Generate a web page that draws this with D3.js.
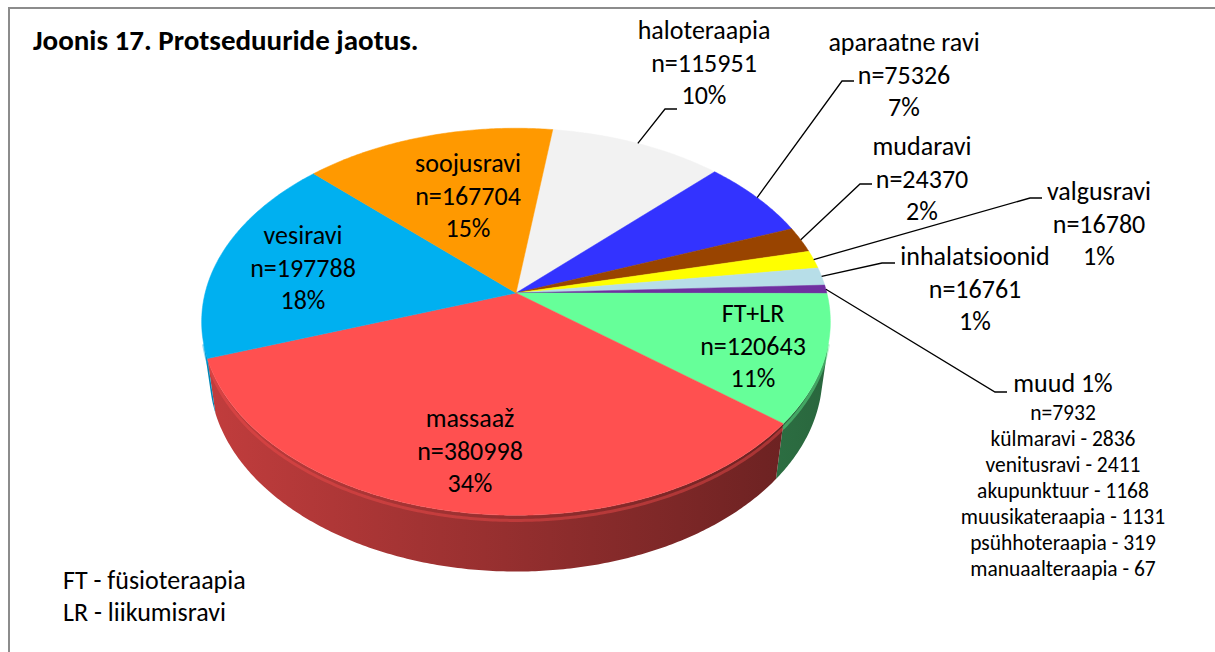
<!DOCTYPE html>
<html>
<head>
<meta charset="utf-8">
<script src="https://cdn.jsdelivr.net/npm/d3@7"></script>
<style>
body { margin: 0; background: #fff; }
svg text { font-family: Carlito, Calibri, Lato, "Open Sans", sans-serif; fill: #000; }
</style>
</head>
<body>
<svg id="chart" width="1215" height="652"></svg>
<script>
// ---- data ----
const categories = ["haloteraapia", "aparaatne ravi", "mudaravi", "valgusravi", "inhalatsioonid",
    "muud", "FT+LR", "massaaž", "vesiravi", "soojusravi"];
const values = [115951, 75326, 24370, 16780, 16761, 7932, 120643, 380998, 197788, 167704];
const sliceColors = ["#F2F2F2", "#3333FF", "#994400", "#FFFF00", "#B7DEE8",
    "#7030A0", "#66FF99", "#FF5050", "#00B0F0", "#FF9900"];
const otherNames = ["külmaravi", "venitusravi", "akupunktuur", "muusikateraapia", "psühhoteraapia", "manuaalteraapia"];
const otherValues = [2836, 2411, 1168, 1131, 319, 67];
const footNotes = ["FT - füsioteraapia", "LR - liikumisravi"];
const title = "Joonis 17. Protseduuride jaotus.";

// label boxes were dragged by hand in the original, so they sit at fixed spots
// x,y = centre of first line; lead = elbow and end of leader line
const labelLayout = {
    "haloteraapia":   { x: 704, y: 30, lead: [665, 109, 677, 109] },
    "aparaatne ravi": { x: 904, y: 42, lead: [842, 81, 854, 81] },
    "mudaravi":       { x: 922, y: 146, lead: [860, 184, 872, 184] },
    "valgusravi":     { x: 1099, y: 191, lead: [1030, 198, 1042, 198] },
    "inhalatsioonid": { x: 975, y: 256, lead: [882, 263, 895, 263] },
    "muud":           { x: 1063, y: 383, lead: [995, 392, 1007, 392] },
    "FT+LR":          { x: 753, y: 313 },
    "massaaž":        { x: 470, y: 418 },
    "vesiravi":       { x: 303, y: 235 },
    "soojusravi":     { x: 468, y: 163 }
};

// ---- 3d pie geometry ----
const cx = 516, cy = 293;
const tilt = 37.5 * Math.PI / 180;
const camDist = 5.34, focal = 1660, thick = 0.223;

// a = angle clockwise from 12 o'clock, r = radius 0..1, h = height (0 top, -thick bottom)
function project(a, r, h) {
    const x = r * Math.sin(a), z = -r * Math.cos(a);
    const d = camDist - (h * Math.sin(tilt) + z * Math.cos(tilt));
    return [cx + focal * x / d, cy + focal * (z * Math.sin(tilt) - h * Math.cos(tilt)) / d];
}

function arcPoints(a0, a1, h) {
    const n = Math.max(2, Math.ceil(Math.abs(a1 - a0) / 0.01));
    return d3.range(n + 1).map(i => project(a0 + (a1 - a0) * i / n, 1, h));
}

function shade(c, k) {
    const col = d3.rgb(c);
    return d3.rgb(col.r * k, col.g * k, col.b * k).formatHex();
}

const total = d3.sum(values);
const data = categories.map((c, i) => ({ name: c, value: values[i], color: sliceColors[i] }));
const startAngle = 7.8 * Math.PI / 180;

const pie = d3.pie()
    .sort(null)
    .value(d => d.value)
    .startAngle(startAngle)
    .endAngle(startAngle + 2 * Math.PI);

const arcs = pie(data);
const line = d3.line();

const svg = d3.select("#chart");
const defs = svg.append("defs");

// border of the chart area
svg.append("path")
    .attr("d", "M9,652V8H1215")
    .attr("fill", "none")
    .attr("stroke", "#8c8c8c")
    .attr("stroke-width", 2);

// visible part of the wall (silhouette tangent points)
const zt = 1 / (camDist * Math.cos(tilt));
const frontStart = Math.acos(-zt), frontEnd = 2 * Math.PI - Math.acos(-zt);

const leftX = project(frontEnd, 1, 0)[0], rightX = project(frontStart, 1, 0)[0];

arcs.forEach((d, i) => {
    const g = defs.append("linearGradient")
        .attr("id", "side" + i)
        .attr("gradientUnits", "userSpaceOnUse")
        .attr("x1", leftX).attr("x2", rightX)
        .attr("y1", 0).attr("y2", 0);
    g.append("stop").attr("offset", "0%").attr("stop-color", shade(d.data.color, 0.76));
    g.append("stop").attr("offset", "100%").attr("stop-color", shade(d.data.color, 0.40));
});

const sides = svg.append("g").attr("class", "sides");
arcs.forEach((d, i) => {
    const a0 = Math.max(d.startAngle, frontStart), a1 = Math.min(d.endAngle, frontEnd);
    if (a1 <= a0) return;
    const top = arcPoints(a0, a1, 0);
    const bottom = arcPoints(a1, a0, -thick);
    sides.append("path")
        .attr("d", line(top.concat(bottom)) + "Z")
        .attr("fill", "url(#side" + i + ")");
    // soft bevel along the rim
    sides.append("path")
        .attr("d", line(arcPoints(a0, a1, -0.02)))
        .attr("fill", "none")
        .attr("stroke", shade(d.data.color, 0.95))
        .attr("stroke-opacity", 0.45)
        .attr("stroke-width", 3);
});

const tops = svg.append("g").attr("class", "tops");
arcs.forEach(d => {
    const pts = [[cx, cy]].concat(arcPoints(d.startAngle, d.endAngle, 0));
    tops.append("path")
        .attr("d", line(pts) + "Z")
        .attr("fill", d.data.color)
        .attr("stroke", d.data.color)
        .attr("stroke-width", 0.5);
});

// ---- labels ----
const pct = v => Math.round(v / total * 100) + "%";
const lineGap = 32.5;
const labels = svg.append("g").attr("class", "labels");

arcs.forEach(d => {
    const L = labelLayout[d.data.name];
    if (L.lead) {
        const mid = (d.startAngle + d.endAngle) / 2;
        const p = project(mid, 1, 0);
        labels.append("path")
            .attr("d", line([p, [L.lead[0], L.lead[1]], [L.lead[2], L.lead[3]]]))
            .attr("fill", "none")
            .attr("stroke", "#000")
            .attr("stroke-width", 1.3);
    }
    let rows;
    if (d.data.name === "muud") {
        rows = [d.data.name + " " + pct(d.data.value)];
    } else {
        rows = [d.data.name, "n=" + d.data.value, pct(d.data.value)];
    }
    const t = labels.append("text")
        .attr("text-anchor", "middle")
        .style("font-size", "26px");
    rows.forEach((r, k) => {
        t.append("tspan")
            .attr("x", L.x)
            .attr("y", L.y + k * lineGap)
            .attr("dy", "0.35em")
            .text(r);
    });
});

// breakdown of "muud"
const muud = labelLayout["muud"];
const otherRows = ["n=" + d3.sum(otherValues)].concat(otherNames.map((n, i) => n + " - " + otherValues[i]));
const ot = labels.append("text")
    .attr("text-anchor", "middle")
    .style("font-size", "21.5px");
otherRows.forEach((r, k) => {
    ot.append("tspan")
        .attr("x", muud.x)
        .attr("y", muud.y + 29 + k * 26.1)
        .attr("dy", "0.35em")
        .text(r);
});

// title and footnotes
svg.append("text")
    .attr("x", 33).attr("y", 40).attr("dy", "0.35em")
    .style("font-size", "29px")
    .style("font-weight", "bold")
    .text(title);

svg.append("g").selectAll("text")
    .data(footNotes)
    .enter().append("text")
    .attr("x", 63)
    .attr("y", (d, i) => 580 + i * 32)
    .attr("dy", "0.35em")
    .style("font-size", "26px")
    .text(d => d);
</script>
</body>
</html>
